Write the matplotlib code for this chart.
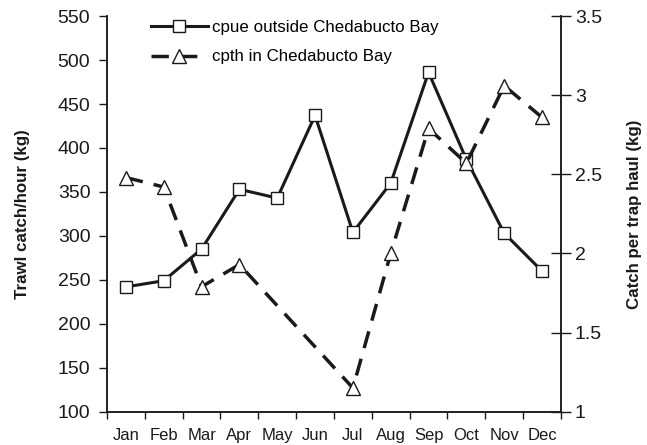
import matplotlib

matplotlib.use("Agg")
import matplotlib.pyplot as plt
import numpy as np

plt.rcParams["font.family"] = ["Liberation Sans", "DejaVu Sans"]

MONTHS = ["Jan", "Feb", "Mar", "Apr", "May", "Jun",
          "Jul", "Aug", "Sep", "Oct", "Nov", "Dec"]

# trawl catch per hour outside Chedabucto Bay (left axis, kg)
CPUE_OUTSIDE = [242, 249, 285, 353, 343, 437, 304, 360, 486, 387, 303, 260]

# catch per trap haul in Chedabucto Bay (right axis, kg); no data May/Jun
CPTH_INSIDE = [2.48, 2.42, 1.79, 1.93, np.nan, np.nan,
               1.15, 2.00, 2.79, 2.57, 3.06, 2.86]

LEFT_TICKS = list(range(100, 551, 50))
RIGHT_TICKS = [1, 1.5, 2, 2.5, 3, 3.5]
RIGHT_TICK_LABELS = ["1", "1.5", "2", "2.5", "3", "3.5"]

INK = "#1a1a1a"


def main():
    fig = plt.figure(figsize=(6.47, 4.45), dpi=100)
    ax = fig.add_axes([0.1654, 0.0748, 0.7016, 0.889])
    ax2 = ax.twinx()

    x = np.arange(1, len(MONTHS) + 1)

    line1, = ax.plot(
        x, CPUE_OUTSIDE,
        color=INK, linewidth=2.2,
        marker="s", markersize=8, markerfacecolor="white",
        markeredgecolor=INK, markeredgewidth=1.0,
        label="cpue outside Chedabucto Bay",
    )

    cpth = np.array(CPTH_INSIDE, dtype=float)
    valid = ~np.isnan(cpth)
    line2, = ax2.plot(
        x[valid], cpth[valid],
        color=INK, linewidth=2.5, linestyle=(0, (5, 3.2)),
        marker="^", markersize=10.5, markerfacecolor="white",
        markeredgecolor=INK, markeredgewidth=1.0,
        label="cpth in Chedabucto Bay",
    )

    ax.set_xlim(0.5, 12.5)
    ax.set_ylim(100, 550)
    ax2.set_ylim(1, 3.5)

    # month labels centred, tick marks on the boundaries
    ax.set_xticks(np.arange(0.5, 13.0, 1.0))
    ax.set_xticklabels([])
    ax.set_xticks(x, minor=True)
    ax.set_xticklabels(MONTHS, minor=True, fontsize=12)
    ax.tick_params(axis="x", which="major", direction="out", length=5,
                   width=1, color=INK)
    ax.tick_params(axis="x", which="minor", length=0, pad=12,
                   labelcolor=INK)

    ax.set_yticks(LEFT_TICKS)
    ax.tick_params(axis="y", direction="out", length=6, width=1,
                   labelsize=14, color=INK, labelcolor=INK, pad=6)
    ax2.set_yticks(RIGHT_TICKS)
    ax2.set_yticklabels(RIGHT_TICK_LABELS)
    ax2.tick_params(axis="y", direction="inout", length=14, width=1,
                    labelsize=14, color=INK, labelcolor=INK, pad=3)

    for a in (ax, ax2):
        a.spines["top"].set_visible(False)
        for side in ("left", "right", "bottom"):
            a.spines[side].set_color(INK)
            a.spines[side].set_linewidth(1.1)

    ax.set_ylabel("Trawl catch/hour (kg)", fontsize=12.2,
                  fontweight="bold", labelpad=20, color=INK)
    ax2.set_ylabel("Catch per trap haul (kg)", fontsize=12.2,
                   fontweight="bold", labelpad=18, color=INK)

    ax2.legend(
        [line1, line2],
        [line1.get_label(), line2.get_label()],
        loc="upper left",
        bbox_to_anchor=(0.097, 0.99),
        frameon=False,
        fontsize=12.2,
        handlelength=3.35,
        handletextpad=0.25,
        labelspacing=0.85,
        borderpad=0.0,
        borderaxespad=0.0,
    )

    fig.savefig("out.png", dpi=100)
    plt.close(fig)


if __name__ == "__main__":
    main()
